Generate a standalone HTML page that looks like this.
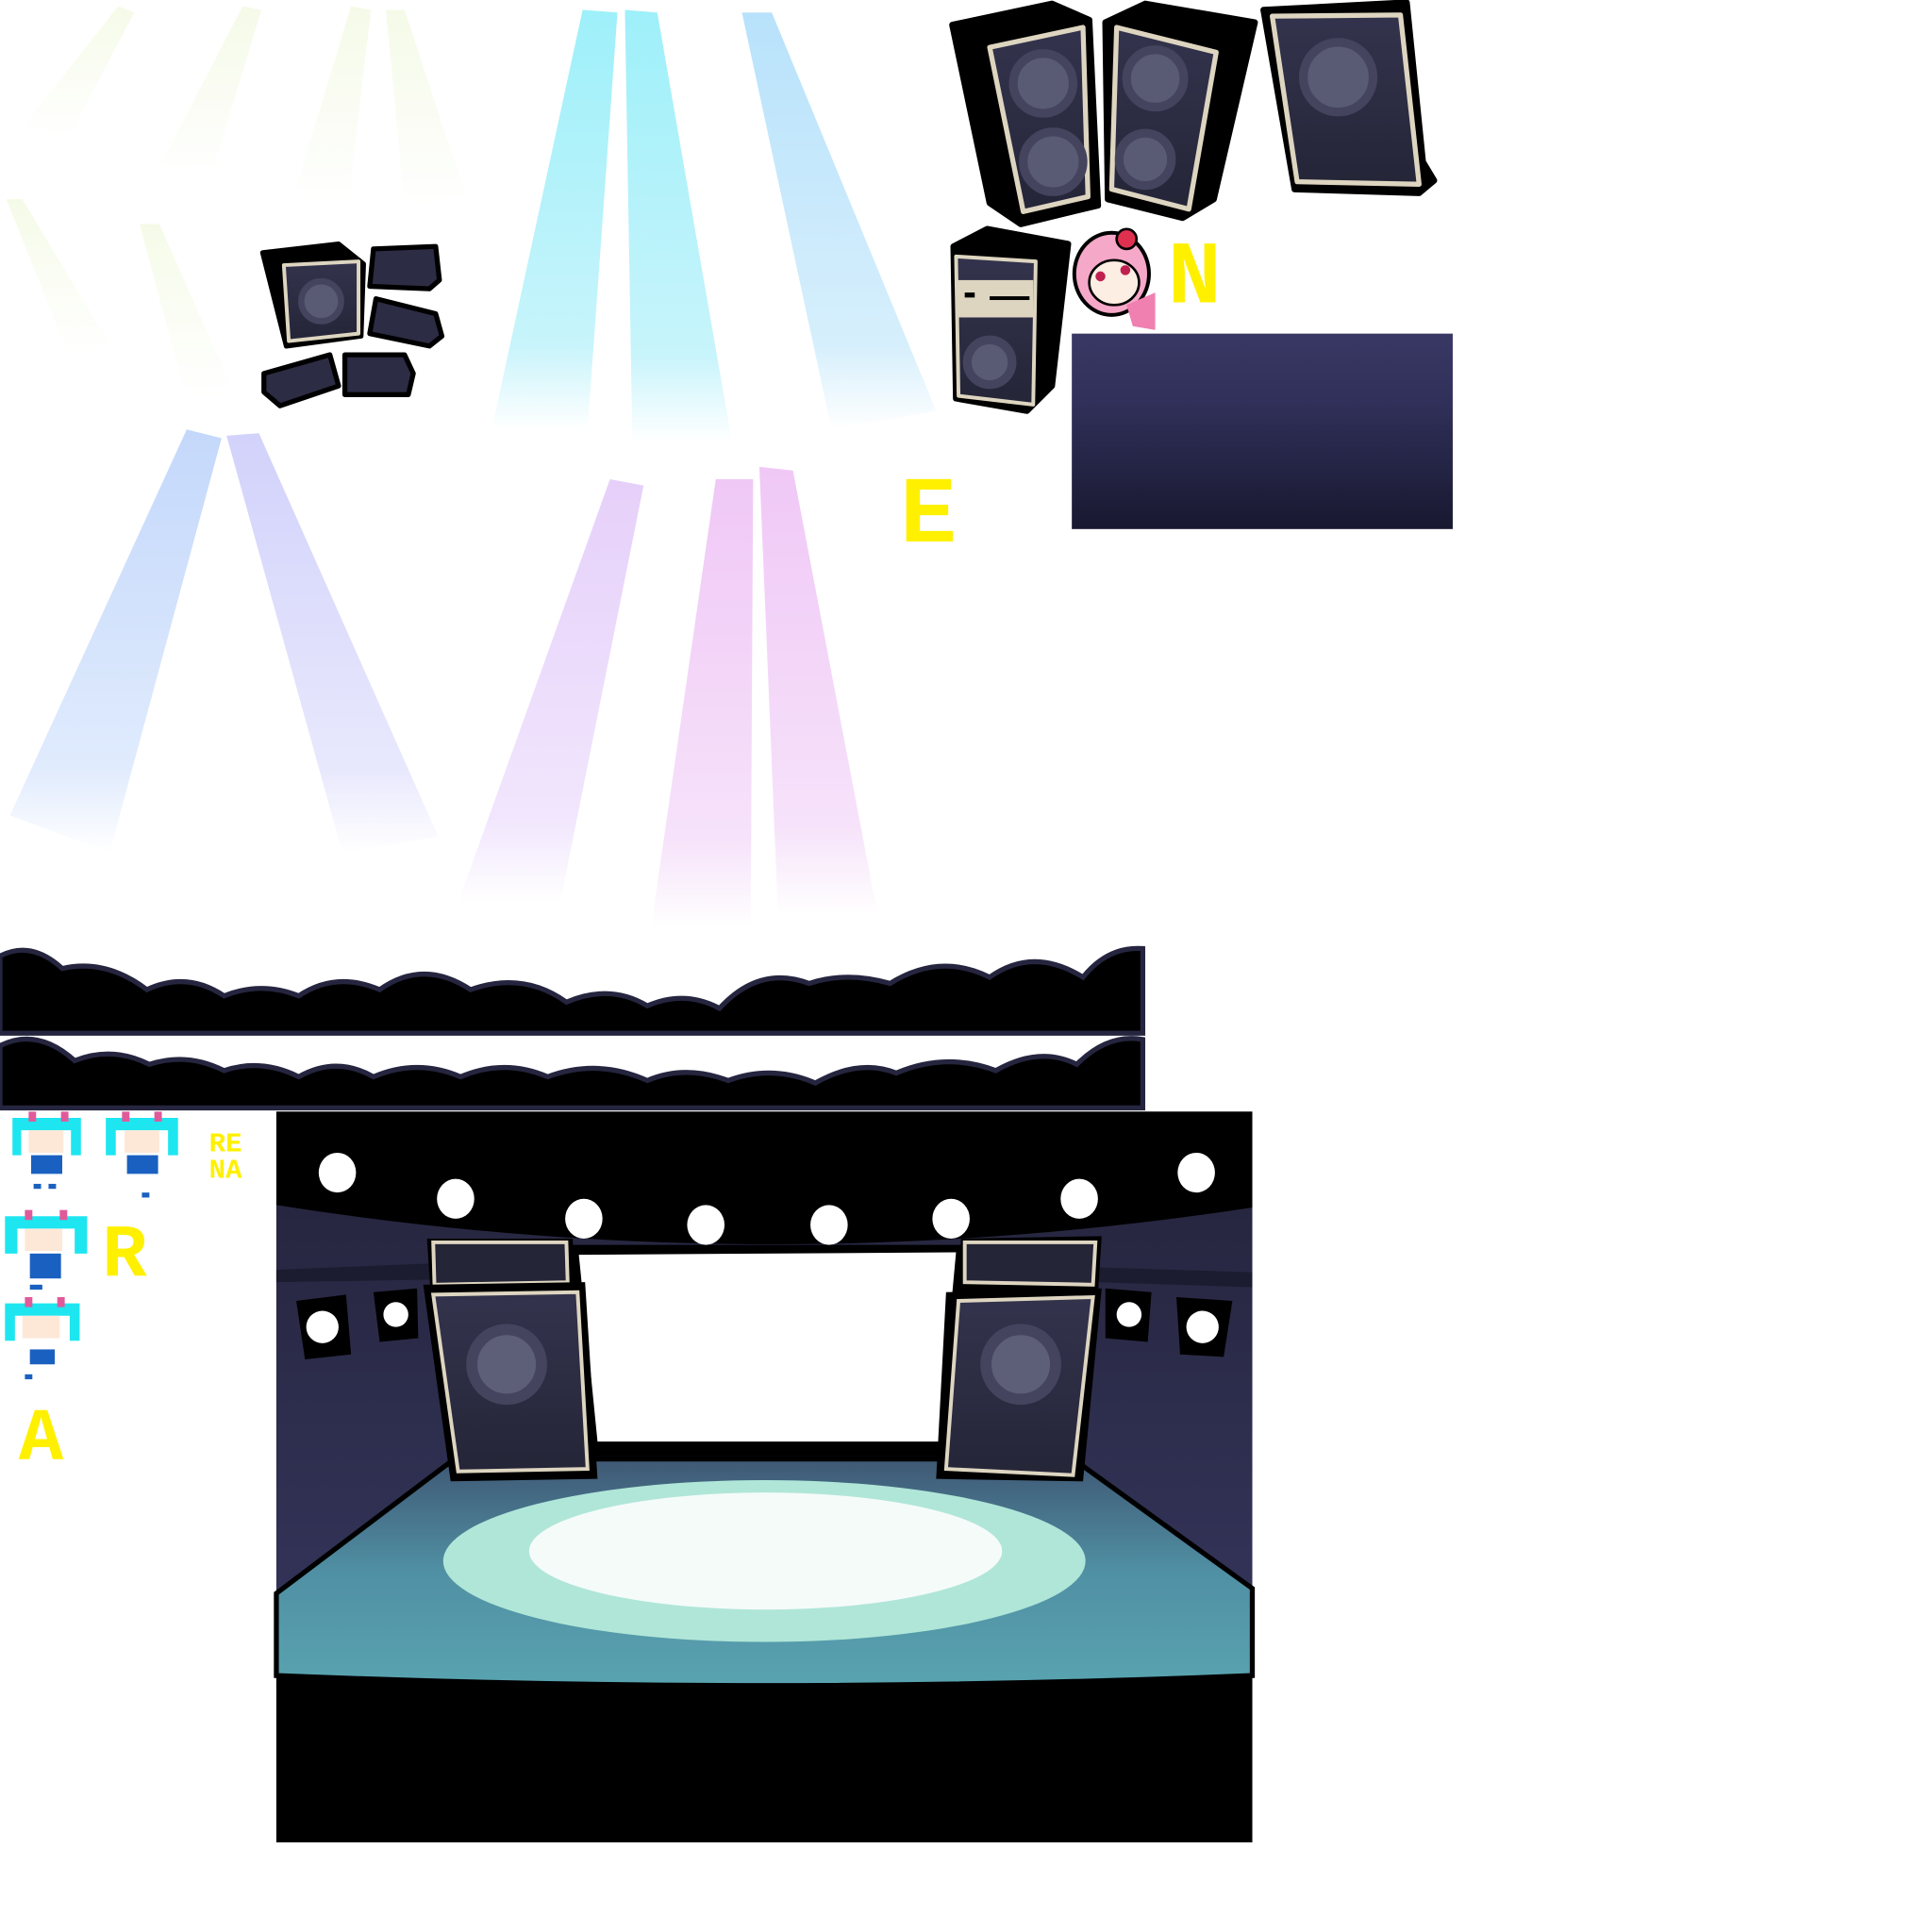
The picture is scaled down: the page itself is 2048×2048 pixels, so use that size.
<!DOCTYPE html>
<html><head><meta charset="utf-8"><style>
html,body{margin:0;padding:0;background:#fff;width:2048px;height:2048px;overflow:hidden}
svg{display:block}
</style></head><body>
<svg width="2048" height="2048" viewBox="0 0 1552 1552" xmlns="http://www.w3.org/2000/svg">
<defs>
<linearGradient id="cy" x1="0" y1="0" x2="0" y2="1"><stop offset="0" stop-color="#9ef0fa"/><stop offset="0.8" stop-color="#c8f4fb"/><stop offset="1" stop-color="#fff"/></linearGradient>
<linearGradient id="lb" x1="0" y1="0" x2="0" y2="1"><stop offset="0" stop-color="#b8e2fb"/><stop offset="0.8" stop-color="#d6effc"/><stop offset="1" stop-color="#fff"/></linearGradient>
<linearGradient id="bl" x1="0" y1="0" x2="0" y2="1"><stop offset="0" stop-color="#c4d8fb"/><stop offset="0.8" stop-color="#e0ebfd"/><stop offset="1" stop-color="#fff"/></linearGradient>
<linearGradient id="lv" x1="0" y1="0" x2="0" y2="1"><stop offset="0" stop-color="#d2d2fb"/><stop offset="0.8" stop-color="#e8e8fd"/><stop offset="1" stop-color="#fff"/></linearGradient>
<linearGradient id="pu" x1="0" y1="0" x2="0" y2="1"><stop offset="0" stop-color="#e6d0fa"/><stop offset="0.8" stop-color="#f1e6fd"/><stop offset="1" stop-color="#fff"/></linearGradient>
<linearGradient id="pk" x1="0" y1="0" x2="0" y2="1"><stop offset="0" stop-color="#f0c8f6"/><stop offset="0.8" stop-color="#f6e2fa"/><stop offset="1" stop-color="#fff"/></linearGradient>
<linearGradient id="yg" x1="0" y1="0" x2="0" y2="1"><stop offset="0" stop-color="#f2f9df"/><stop offset="1" stop-color="#fff"/></linearGradient>
<linearGradient id="nv" x1="0" y1="0" x2="0" y2="1"><stop offset="0" stop-color="#393864"/><stop offset="0.35" stop-color="#30305a"/><stop offset="1" stop-color="#181830"/></linearGradient>
<linearGradient id="wall" x1="0" y1="0" x2="0" y2="1"><stop offset="0" stop-color="#262640"/><stop offset="1" stop-color="#36365e"/></linearGradient>
<linearGradient id="floor" x1="0" y1="0" x2="0" y2="1"><stop offset="0" stop-color="#3f5874"/><stop offset="0.5" stop-color="#5090a4"/><stop offset="1" stop-color="#59a3b0"/></linearGradient>
<linearGradient id="spk" x1="0" y1="0" x2="0" y2="1"><stop offset="0" stop-color="#33334d"/><stop offset="1" stop-color="#252538"/></linearGradient>
</defs>

<g opacity="0.7">
<polygon points="95,5 108,10 55,110 20,100" fill="url(#yg)"/>
<polygon points="195,5 210,8 170,140 130,130" fill="url(#yg)"/>
<polygon points="282,5 298,8 280,160 235,160" fill="url(#yg)"/>
<polygon points="310,8 325,8 375,160 325,165" fill="url(#yg)"/>
<polygon points="5,160 18,160 90,280 55,285" fill="url(#yg)"/>
<polygon points="112,180 128,180 190,320 150,320" fill="url(#yg)"/>
</g>

<polygon points="468,8 496,10 472,345 395,345" fill="url(#cy)"/>
<polygon points="502,8 528,10 588,355 508,355" fill="url(#cy)"/>
<polygon points="596,10 620,10 752,330 668,345" fill="url(#lb)"/>
<polygon points="150,345 178,352 88,685 8,655" fill="url(#bl)"/>
<polygon points="182,350 208,348 352,672 275,685" fill="url(#lv)"/>
<polygon points="490,385 517,390 450,725 368,725" fill="url(#pu)"/>
<polygon points="575,385 605,385 603,745 523,745" fill="url(#pk)"/>
<polygon points="610,375 637,378 705,735 625,735" fill="url(#pk)"/>

<g stroke="#000" stroke-width="5" stroke-linejoin="round">
<polygon points="765,20 845,3 875,16 882,165 820,180 795,163" fill="#000"/>
<polygon points="795,38 870,22 874,158 822,170" fill="url(#spk)" stroke="#ddd5c0" stroke-width="4"/>
<polygon points="888,18 920,3 1008,18 975,160 950,175 890,160" fill="#000"/>
<polygon points="897,22 977,42 955,168 893,152" fill="url(#spk)" stroke="#ddd5c0" stroke-width="4"/>
<polygon points="1015,8 1130,2 1143,130 1152,145 1140,155 1040,152" fill="#000"/>
<polygon points="1022,13 1125,12 1140,148 1042,146" fill="url(#spk)" stroke="#ddd5c0" stroke-width="4"/>
<polygon points="766,198 793,184 858,196 845,310 825,330 768,320" fill="#000"/>
<polygon points="768,206 832,210 830,325 770,318" fill="url(#spk)" stroke="#ddd5c0" stroke-width="3"/>
<rect x="768" y="225" width="62" height="30" fill="#ddd5c0" stroke="none"/>
</g>
<g fill="#595a74" stroke="#44445e" stroke-width="7">
<circle cx="838" cy="67" r="24"/><circle cx="846" cy="130" r="24"/>
<circle cx="928" cy="63" r="23"/><circle cx="920" cy="128" r="21"/>
<circle cx="1075" cy="62" r="28"/><circle cx="795" cy="291" r="18"/>
</g>
<g fill="#000"><rect x="775" y="235" width="8" height="4"/><rect x="795" y="238" width="32" height="3"/></g>

<g stroke="#000" stroke-width="4" stroke-linejoin="round">
<polygon points="211,203 272,196 292,212 290,270 230,278" fill="#000"/>
<polygon points="228,213 288,210 288,268 232,274" fill="url(#spk)" stroke="#ddd5c0" stroke-width="3"/>
<polygon points="300,200 350,198 353,225 345,232 297,230" fill="#2c2c44"/>
<polygon points="302,240 350,252 355,270 345,278 297,268" fill="#2c2c44"/>
<polygon points="212,300 265,285 272,310 225,326 212,315" fill="#2c2c44"/>
<polygon points="277,285 325,285 332,300 328,317 277,317" fill="#2c2c44"/>
</g>
<circle cx="258" cy="242" r="16" fill="#595a74" stroke="#44445e" stroke-width="5"/>

<g>
<ellipse cx="893" cy="220" rx="30" ry="33" fill="#f5a8c8" stroke="#000" stroke-width="3"/>
<ellipse cx="895" cy="227" rx="20" ry="18" fill="#fdeee4" stroke="#000" stroke-width="2"/>
<circle cx="884" cy="222" r="4" fill="#c02050"/><circle cx="904" cy="217" r="4" fill="#c02050"/>
<circle cx="905" cy="192" r="8" fill="#e03050" stroke="#000" stroke-width="2"/>
<polygon points="905,245 928,235 928,265 910,262" fill="#f080b0"/>
</g>

<rect x="861" y="268" width="306" height="157" fill="url(#nv)"/>

<g fill="#fff000" font-family="Liberation Mono, monospace" font-weight="bold">
<text x="938" y="243" font-size="72">N</text>
<text x="723" y="435" font-size="76">E</text>
<text x="82" y="1025" font-size="60">R</text>
<text x="15" y="1172" font-size="60">A</text>
<text x="168" y="925" font-size="22">RE</text>
<text x="168" y="946" font-size="22">NA</text>
</g>

<g fill="#000" stroke="#25253f" stroke-width="4">
<path d="M0,830 L0,768 Q25,755 50,778 Q85,770 118,795 Q150,780 180,800 Q210,788 240,800 Q270,780 305,795 Q340,770 378,795 Q420,780 455,805 Q490,790 520,808 Q550,795 578,810 Q610,775 650,790 Q680,780 715,790 Q755,765 795,785 Q830,760 870,785 Q890,760 918,762 L918,830 Z"/>
<path d="M0,890 L0,840 Q30,825 60,852 Q90,840 120,855 Q150,845 180,860 Q210,850 240,865 Q270,848 300,865 Q335,850 370,865 Q405,850 440,865 Q480,850 520,868 Q550,855 585,868 Q620,855 655,870 Q690,850 720,862 Q760,845 800,860 Q835,840 865,855 Q890,830 918,835 L918,890 Z"/>
</g>

<g>
<g transform="translate(5,893)"><path d="M5,5 h55 v30 h-8 v-20 h-40 v20 h-7z" fill="#1ee6f0"/><rect x="18" y="15" width="28" height="18" fill="#fde8d8"/><rect x="20" y="35" width="25" height="15" fill="#1a60c0"/><rect x="22" y="58" width="6" height="4" fill="#1a60c0"/><rect x="34" y="58" width="6" height="4" fill="#1a60c0"/><rect x="18" y="0" width="6" height="8" fill="#e05a9a"/><rect x="44" y="0" width="6" height="8" fill="#e05a9a"/></g>
<g transform="translate(80,893)"><path d="M5,5 h58 v30 h-8 v-20 h-42 v20 h-8z" fill="#1ee6f0"/><rect x="20" y="15" width="28" height="18" fill="#fde8d8"/><rect x="22" y="35" width="25" height="15" fill="#1a60c0"/><rect x="34" y="65" width="6" height="4" fill="#1a60c0"/><rect x="18" y="0" width="6" height="8" fill="#e05a9a"/><rect x="44" y="0" width="6" height="8" fill="#e05a9a"/></g>
<g transform="translate(2,972)"><path d="M2,5 h66 v30 h-10 v-20 h-46 v20 h-10z" fill="#1ee6f0"/><rect x="18" y="15" width="30" height="18" fill="#fde8d8"/><rect x="22" y="35" width="25" height="20" fill="#1a60c0"/><rect x="22" y="60" width="10" height="4" fill="#1a60c0"/><rect x="18" y="0" width="6" height="8" fill="#e05a9a"/><rect x="46" y="0" width="6" height="8" fill="#e05a9a"/></g>
<g transform="translate(2,1042)"><path d="M2,5 h60 v30 h-8 v-20 h-44 v20 h-8z" fill="#1ee6f0"/><rect x="16" y="15" width="30" height="18" fill="#fde8d8"/><rect x="22" y="42" width="20" height="12" fill="#1a60c0"/><rect x="18" y="62" width="6" height="4" fill="#1a60c0"/><rect x="18" y="0" width="6" height="8" fill="#e05a9a"/><rect x="44" y="0" width="6" height="8" fill="#e05a9a"/></g>
</g>

<rect x="222" y="893" width="784" height="587" fill="#000"/>
<rect x="222" y="965" width="784" height="390" fill="url(#wall)"/>
<polygon points="222,1020 345,1015 345,1028 222,1030" fill="#1c1c30"/>
<polygon points="880,1018 1006,1022 1006,1034 880,1030" fill="#1c1c30"/>
<path d="M222,1280 L365,1172 L862,1172 L1006,1276 L1006,1346 Q614,1362 222,1346 Z" fill="url(#floor)" stroke="#000" stroke-width="4"/>
<ellipse cx="614" cy="1254" rx="258" ry="65" fill="#b0e6d8"/>
<ellipse cx="615" cy="1246" rx="190" ry="47" fill="#f5fbf9"/>
<path d="M222,1346 Q614,1362 1006,1346 L1006,1480 L222,1480Z" fill="#000"/>
<polygon points="458,1000 775,1000 760,1170 470,1170" fill="#000"/>
<polygon points="465,1008 768,1006 754,1158 480,1158" fill="#fff"/>
<polygon points="343,995 460,995 462,1038 346,1040" fill="#000"/>
<polygon points="348,998 455,998 456,1030 349,1032" fill="#252538" stroke="#ddd5c0" stroke-width="3"/>
<polygon points="340,1032 470,1030 480,1188 362,1190" fill="#000"/>
<polygon points="348,1040 464,1038 472,1180 368,1182" fill="url(#spk)" stroke="#ddd5c0" stroke-width="3"/>
<polygon points="772,995 885,993 882,1040 770,1040" fill="#000"/>
<polygon points="775,998 880,998 878,1032 775,1030" fill="#252538" stroke="#ddd5c0" stroke-width="3"/>
<polygon points="760,1038 885,1035 870,1190 752,1188" fill="#000"/>
<polygon points="770,1045 878,1042 862,1185 760,1180" fill="url(#spk)" stroke="#ddd5c0" stroke-width="3"/>
<circle cx="407" cy="1096" r="28" fill="#5d5e78" stroke="#44445e" stroke-width="9"/>
<circle cx="820" cy="1096" r="28" fill="#5d5e78" stroke="#44445e" stroke-width="9"/>
<g fill="#000">
<polygon points="238,1045 278,1040 282,1088 245,1092"/><polygon points="300,1038 335,1035 336,1075 305,1078"/>
<polygon points="888,1035 925,1038 922,1078 888,1075"/><polygon points="945,1042 990,1045 983,1090 948,1088"/>
</g>
<g fill="#fff"><circle cx="259" cy="1066" r="13"/><circle cx="318" cy="1056" r="10"/><circle cx="907" cy="1056" r="10"/><circle cx="966" cy="1066" r="13"/></g>
<path d="M222,893 L1006,893 L1006,970 Q614,1030 222,968 Z" fill="#000"/>
<g fill="#fff">
<ellipse cx="271" cy="942" rx="15" ry="16"/><ellipse cx="366" cy="963" rx="15" ry="16"/><ellipse cx="469" cy="979" rx="15" ry="16"/>
<ellipse cx="567" cy="984" rx="15" ry="16"/><ellipse cx="666" cy="984" rx="15" ry="16"/><ellipse cx="764" cy="979" rx="15" ry="16"/>
<ellipse cx="867" cy="963" rx="15" ry="16"/><ellipse cx="961" cy="942" rx="15" ry="16"/>
</g>
</svg>
</body></html>
